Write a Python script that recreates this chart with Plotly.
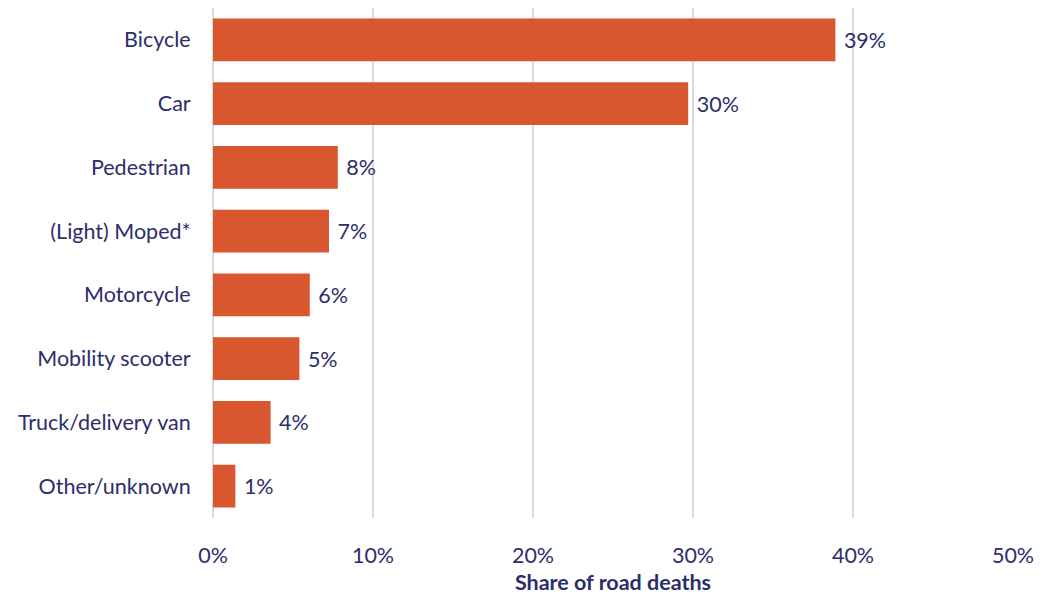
import plotly.graph_objects as go

categories = ["Bicycle", "Car", "Pedestrian", "(Light) Moped*", "Motorcycle",
              "Mobility scooter", "Truck/delivery van", "Other/unknown"]
shares = [38.9, 29.7, 7.8, 7.25, 6.05, 5.4, 3.6, 1.4]

navy = "#2b2e6b"
bar_color = "#d8572e"
fsize = 21.5

fig = go.Figure(go.Bar(
    x=shares,
    y=categories,
    orientation="h",
    marker=dict(color=bar_color, line=dict(width=0)),
    text=shares,
    texttemplate=" %{x:.0f}%",
    textposition="outside",
    textfont=dict(color=navy, size=fsize, family="Lato"),
    cliponaxis=False,
))

fig.update_layout(
    width=1049, height=599,
    margin=dict(l=213, r=36, t=8, b=78),
    plot_bgcolor="white", paper_bgcolor="white",
    bargap=0.33,
    showlegend=False,
    font=dict(family="Lato", color=navy, size=fsize),
)
fig.update_xaxes(
    range=[0, 50], dtick=10, ticksuffix="%",
    showgrid=True, gridcolor="#d9d9e0", gridwidth=1.5,
    zeroline=True, zerolinecolor="#d9d9e0", zerolinewidth=1.5,
    tickfont=dict(size=fsize, color=navy), ticks="outside", ticklen=18, tickcolor="rgba(0,0,0,0)",
    title=dict(text="<b>Share of road deaths</b>", font=dict(size=fsize, color=navy), standoff=8),
)
fig.update_yaxes(
    autorange="reversed", showgrid=False,
    tickfont=dict(size=fsize, color=navy), ticks="outside", ticklen=17, tickcolor="rgba(0,0,0,0)",
)

fig.write_html("out.html")
